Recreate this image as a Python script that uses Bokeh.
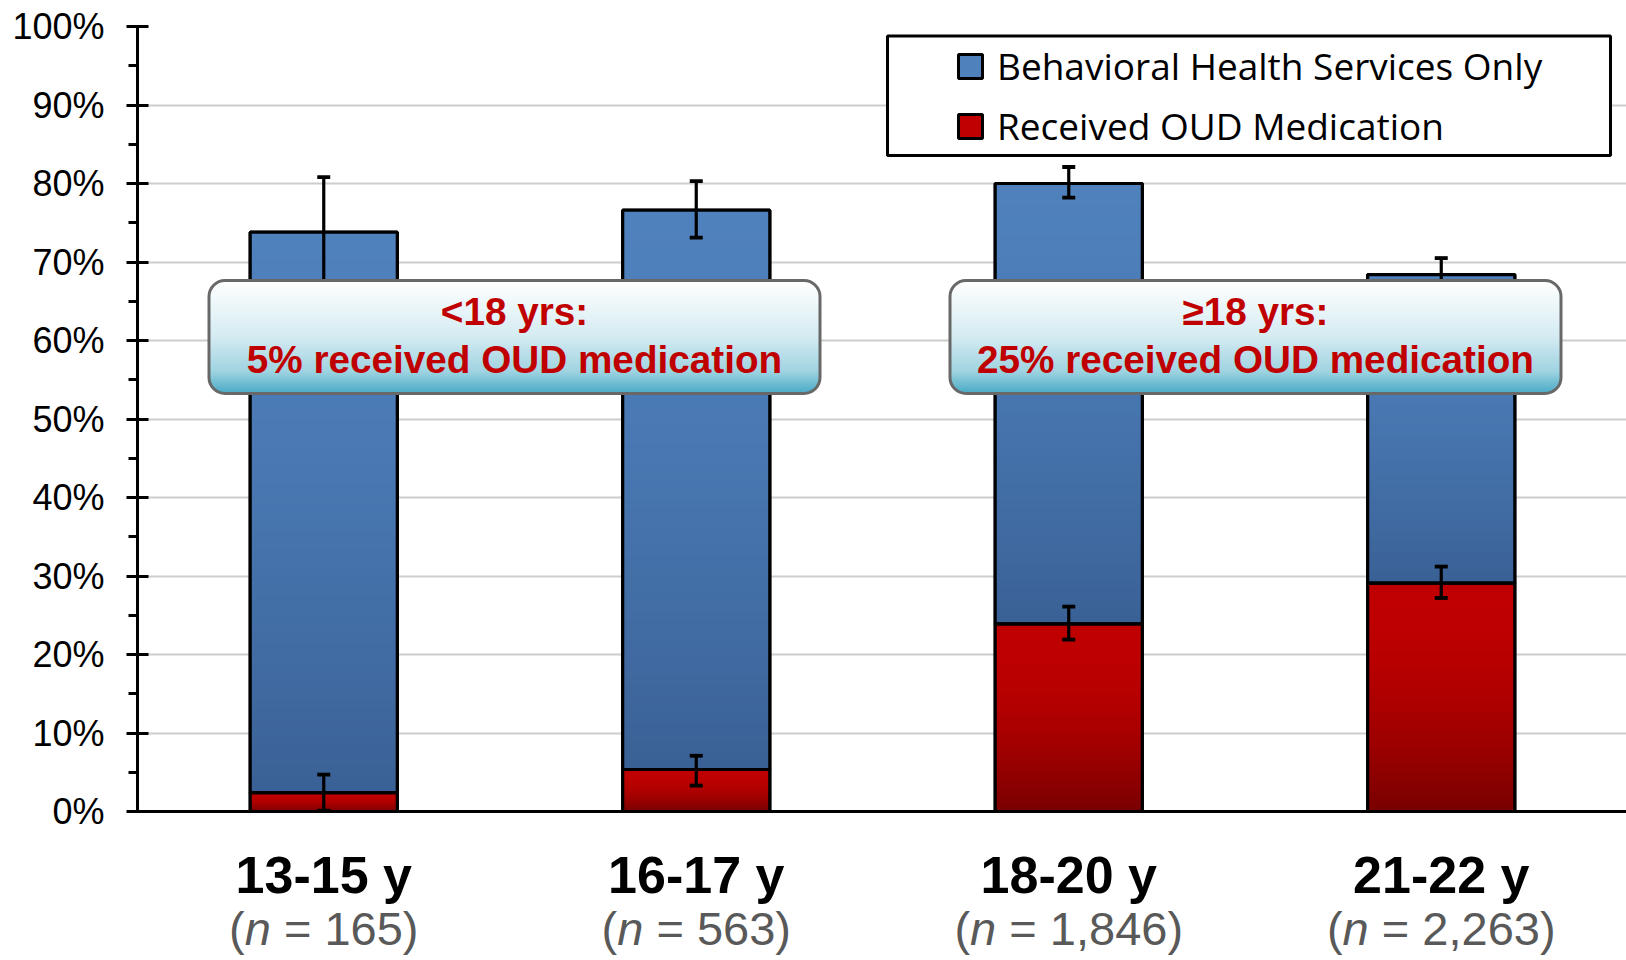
import numpy as np
from bokeh.plotting import figure
from bokeh.models import (Range1d, FixedTicker, PrintfTickFormatter,
                          Legend, LegendItem, BoxAnnotation, Label, Span)
from bokeh.embed import file_html
from bokeh.resources import INLINE

# ---------------- data ----------------
categories = ["13-15 y", "16-17 y", "18-20 y", "21-22 y"]
n_counts = ["165", "563", "1,846", "2,263"]
oud_med = [2.4, 5.35, 23.9, 29.1]          # Received OUD Medication (%)
oud_med_lo = [0.1, 3.3, 21.9, 27.2]
oud_med_hi = [4.7, 7.1, 26.1, 31.2]
total = [73.8, 76.6, 80.0, 68.4]           # top of stacked bar (%)
total_lo = [66.9, 73.1, 78.2, 66.3]
total_hi = [80.8, 80.3, 82.1, 70.5]
y_ticks = [0, 10, 20, 30, 40, 50, 60, 70, 80, 90, 100]
y_minor = [5, 15, 25, 35, 45, 55, 65, 75, 85, 95]
series_names = ["Behavioral Health Services Only", "Received OUD Medication"]
callout_head = ["<18 yrs:", "\u226518 yrs:"]
callout_body = ["5% received OUD medication", "25% received OUD medication"]

# ---------------- layout ----------------
W, H = 1626, 960
FL, FT = 137, 26                     # frame left / top (px)
ZERO_PX = 811                        # page y of 0 %
PX_CAT = 372.5                       # px per category
x_end = -0.5 + (W - FL) / PX_CAT
PX_Y = (ZERO_PX - FT) / 100.0
y_start = -(H - ZERO_PX) / PX_Y
BASE_SHIFT = 0.365                   # empirical baseline correction (em)


def dx(px):   # page px -> data x
    return -0.5 + (px - FL) / PX_CAT


def dy(py):   # page px -> data y
    return (ZERO_PX - py) / PX_Y


def dy_text(baseline_px, fs):
    return dy(baseline_px - BASE_SHIFT * fs)


FONT = "Liberation Sans"
xs = list(range(len(categories)))

p = figure(width=W, height=H, x_range=Range1d(-0.5, x_end), y_range=Range1d(y_start, 100),
           output_backend="svg", toolbar_location=None, x_axis_location=None,
           min_border_left=FL, min_border_right=0, min_border_top=FT, min_border_bottom=0)
p.outline_line_color = None
p.background_fill_color = "white"
p.border_fill_color = "white"

# y axis
p.yaxis.ticker = FixedTicker(ticks=y_ticks, minor_ticks=y_minor)
p.yaxis.bounds = (0, 100)
p.yaxis.formatter = PrintfTickFormatter(format="%d%%")
p.yaxis.major_tick_in = 11
p.yaxis.major_tick_out = 11
p.yaxis.minor_tick_in = 0
p.yaxis.minor_tick_out = 9
p.yaxis.axis_line_width = 3
p.yaxis.major_tick_line_width = 3
p.yaxis.minor_tick_line_width = 3
p.yaxis.major_label_text_font = FONT
p.yaxis.major_label_text_font_size = "36px"
p.yaxis.major_label_text_color = "black"
p.yaxis.major_label_standoff = 22

p.xgrid.visible = False
p.ygrid.ticker = FixedTicker(ticks=y_ticks)
p.ygrid.grid_line_color = "#cdcdcd"
p.ygrid.grid_line_width = 2

# ---------------- bars ----------------
BAR_W = 0.395
BLUE_TOP, BLUE_BOT = (79, 129, 189), (58, 97, 150)
RED_TOP, RED_BOT = (192, 0, 0), (120, 0, 0)


def hexc(c):
    return "#%02x%02x%02x" % tuple(int(round(v)) for v in c)


def lerp(c0, c1, t):
    return tuple(a + (b - a) * t for a, b in zip(c0, c1))


blue_base = p.vbar(x=xs, bottom=oud_med, top=total, width=BAR_W,
                   fill_color=hexc(BLUE_TOP), line_color="black", line_width=3)
red_base = p.vbar(x=xs, bottom=[0] * len(xs), top=oud_med, width=BAR_W,
                  fill_color=hexc(RED_TOP), line_color="black", line_width=3)

N = 60
L, R, B, T, C = [], [], [], [], []
for i in xs:
    for (b, t, c0, c1, g) in [(0, oud_med[i], RED_TOP, RED_BOT, 2.0),
                              (oud_med[i], total[i], BLUE_TOP, BLUE_BOT, 1.4)]:
        for k in range(N):
            y_hi = t - (t - b) * k / N
            y_lo = t - (t - b) * (k + 1) / N
            L.append(i - BAR_W / 2)
            R.append(i + BAR_W / 2)
            T.append(y_hi)
            B.append(max(b, y_lo - 0.12))
            C.append(hexc(lerp(c0, c1, ((k + 0.5) / N) ** g)))
p.quad(left=L, right=R, bottom=B, top=T, fill_color=C, line_color=None)

p.vbar(x=xs, bottom=oud_med, top=total, width=BAR_W, fill_color=None,
       line_color="black", line_width=3.2)
p.vbar(x=xs, bottom=[0] * len(xs), top=oud_med, width=BAR_W, fill_color=None,
       line_color="black", line_width=3.2)

# error bars
CAP = 6.5 / PX_CAT
lo_all = total_lo + oud_med_lo
hi_all = total_hi + oud_med_hi
x_all = xs + xs
p.segment(x0=x_all, y0=lo_all, x1=x_all, y1=hi_all, line_color="black", line_width=3.2)
p.segment(x0=[x - CAP for x in x_all] * 2, y0=lo_all + hi_all,
          x1=[x + CAP for x in x_all] * 2, y1=lo_all + hi_all,
          line_color="black", line_width=3.8)

# x axis line at 0 %
p.add_layout(Span(location=0, dimension="width", line_color="black", line_width=3))

# ---------------- callout boxes ----------------
box_centers = [dx(514), dx(1255)]
BOX_HW = 611 / 2 / PX_CAT
BOX_TOP, BOX_BOT = dy(280), dy(393)
RAD = 16
rx, ry = RAD / PX_CAT, RAD / PX_Y
stops = [(0.0, (255, 255, 255)), (0.5, (212, 235, 242)), (0.8, (160, 211, 225)), (1.0, (72, 170, 197))]


def grad(t):
    for (t0, c0), (t1, c1) in zip(stops[:-1], stops[1:]):
        if t <= t1:
            return lerp(c0, c1, (t - t0) / (t1 - t0))
    return stops[-1][1]


NB = 70
bl, br, bb, bt, bc = [], [], [], [], []
for cx in box_centers:
    for k in range(NB):
        y_hi = BOX_TOP - (BOX_TOP - BOX_BOT) * k / NB
        y_lo = BOX_TOP - (BOX_TOP - BOX_BOT) * (k + 1) / NB
        ym = (y_hi + y_lo) / 2
        d = min(BOX_TOP - ym, ym - BOX_BOT)
        inset = 0.0
        if d < ry:
            u = (ry - d) / ry
            inset = rx * (1 - np.sqrt(max(0.0, 1 - u * u)))
        bl.append(cx - BOX_HW + inset)
        br.append(cx + BOX_HW - inset)
        bt.append(y_hi)
        bb.append(max(BOX_BOT, y_lo - 0.1))
        bc.append(hexc(grad((k + 0.5) / NB)))
p.quad(left=bl, right=br, bottom=bb, top=bt, fill_color=bc, line_color=None)

CFS = 38.7
for j, cx in enumerate(box_centers):
    p.add_layout(BoxAnnotation(left=cx - BOX_HW, right=cx + BOX_HW, bottom=BOX_BOT, top=BOX_TOP,
                               fill_alpha=0, line_color="#686868", line_alpha=1, line_width=3,
                               border_radius=RAD))
    p.add_layout(Label(x=cx, y=dy_text(325, CFS), text=callout_head[j], text_align="center",
                       text_baseline="alphabetic", text_font=FONT, text_font_size="%.1fpx" % CFS,
                       text_font_style="bold", text_color="#c00000"))
    p.add_layout(Label(x=cx, y=dy_text(373, CFS), text=callout_body[j], text_align="center",
                       text_baseline="alphabetic", text_font=FONT, text_font_size="%.1fpx" % CFS,
                       text_font_style="bold", text_color="#c00000"))

# ---------------- category labels ----------------
KFS = 52
for i, cat in enumerate(categories):
    p.add_layout(Label(x=i, y=dy_text(893, KFS), text=cat, text_align="center",
                       text_baseline="alphabetic", text_font=FONT, text_font_size="%dpx" % KFS,
                       text_font_style="bold", text_color="black"))

NFS = 47
CW = {"(": .333, ")": .333, "n": .556, " ": .278, "=": .584, ",": .278}


def tw(s):
    return sum(CW.get(ch, .556) for ch in s) * NFS


for i, cnt in enumerate(n_counts):
    rest = "= " + cnt + ")"
    total_w = tw("(") + tw("n") + tw(" ") + tw(rest)
    x0 = -total_w / 2
    parts = [("(", "normal", x0), ("n", "italic", x0 + tw("(")),
             (rest, "normal", x0 + tw("(") + tw("n") + tw(" "))]
    for txt, style, off in parts:
        p.add_layout(Label(x=i, y=dy_text(945.5, NFS), x_offset=off, text=txt, text_align="left",
                           text_baseline="alphabetic", text_font=FONT,
                           text_font_size="%dpx" % NFS, text_font_style=style,
                           text_color="#595959"))

# ---------------- legend ----------------
p.add_layout(BoxAnnotation(left=dx(887), right=dx(1610), top=dy(35.5), bottom=dy(155),
                           fill_color="white", fill_alpha=1, line_color="black",
                           line_alpha=1, line_width=3))
legend = Legend(items=[LegendItem(label=series_names[0], renderers=[blue_base]),
                       LegendItem(label=series_names[1], renderers=[red_base])],
                location=(818, 809), padding=0, margin=0, spacing=9,
                glyph_width=30, glyph_height=30, label_standoff=12, label_height=50,
                label_text_font="Open Sans", label_text_font_size="37px",
                label_text_color="black",
                border_line_alpha=0, background_fill_alpha=0)
p.add_layout(legend)

open("out.html", "w").write(file_html(p, INLINE))
